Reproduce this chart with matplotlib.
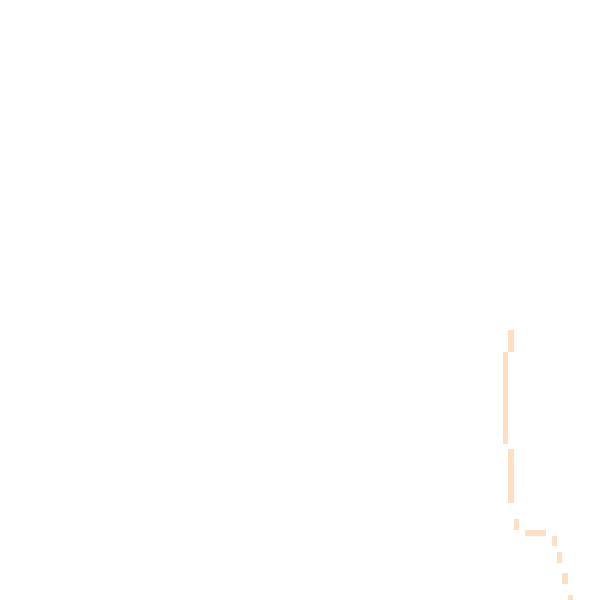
import numpy as np
import matplotlib
matplotlib.use("Agg")
import matplotlib.pyplot as plt
from matplotlib.colors import ListedColormap

# Highlighted cells of the grid: column index, first row, last row (inclusive)
seg_cols      = [94, 93, 94, 95, 97, 98, 99, 100, 102, 103, 104, 105]
seg_row_start = [61, 65, 83, 96, 98, 98, 98, 98,  99,  102, 106, 110]
seg_row_end   = [64, 81, 92, 97, 98, 98, 98, 98,  100, 103, 107, 111]
grid_size = 112
cell_color = "#fddfc4"

mat = np.zeros((grid_size, grid_size))
for c, r0, r1 in zip(seg_cols, seg_row_start, seg_row_end):
    mat[r0:r1 + 1, c] = 1.0

fig = plt.figure(figsize=(6, 6), dpi=100)
ax = fig.add_axes([0, 0, 1, 1])
cmap = ListedColormap(["#ffffff", cell_color])
X = np.arange(grid_size + 1)
ax.pcolormesh(X, X, mat, cmap=cmap, vmin=0, vmax=1, shading="flat",
              edgecolors="none", antialiased=False)
cell = 5.4
ax.set_xlim(-0.8 / cell, (600 - 0.8) / cell)
ax.set_ylim((600 - 1) / cell, -1 / cell)
ax.axis("off")
fig.savefig("out.png", dpi=100)
